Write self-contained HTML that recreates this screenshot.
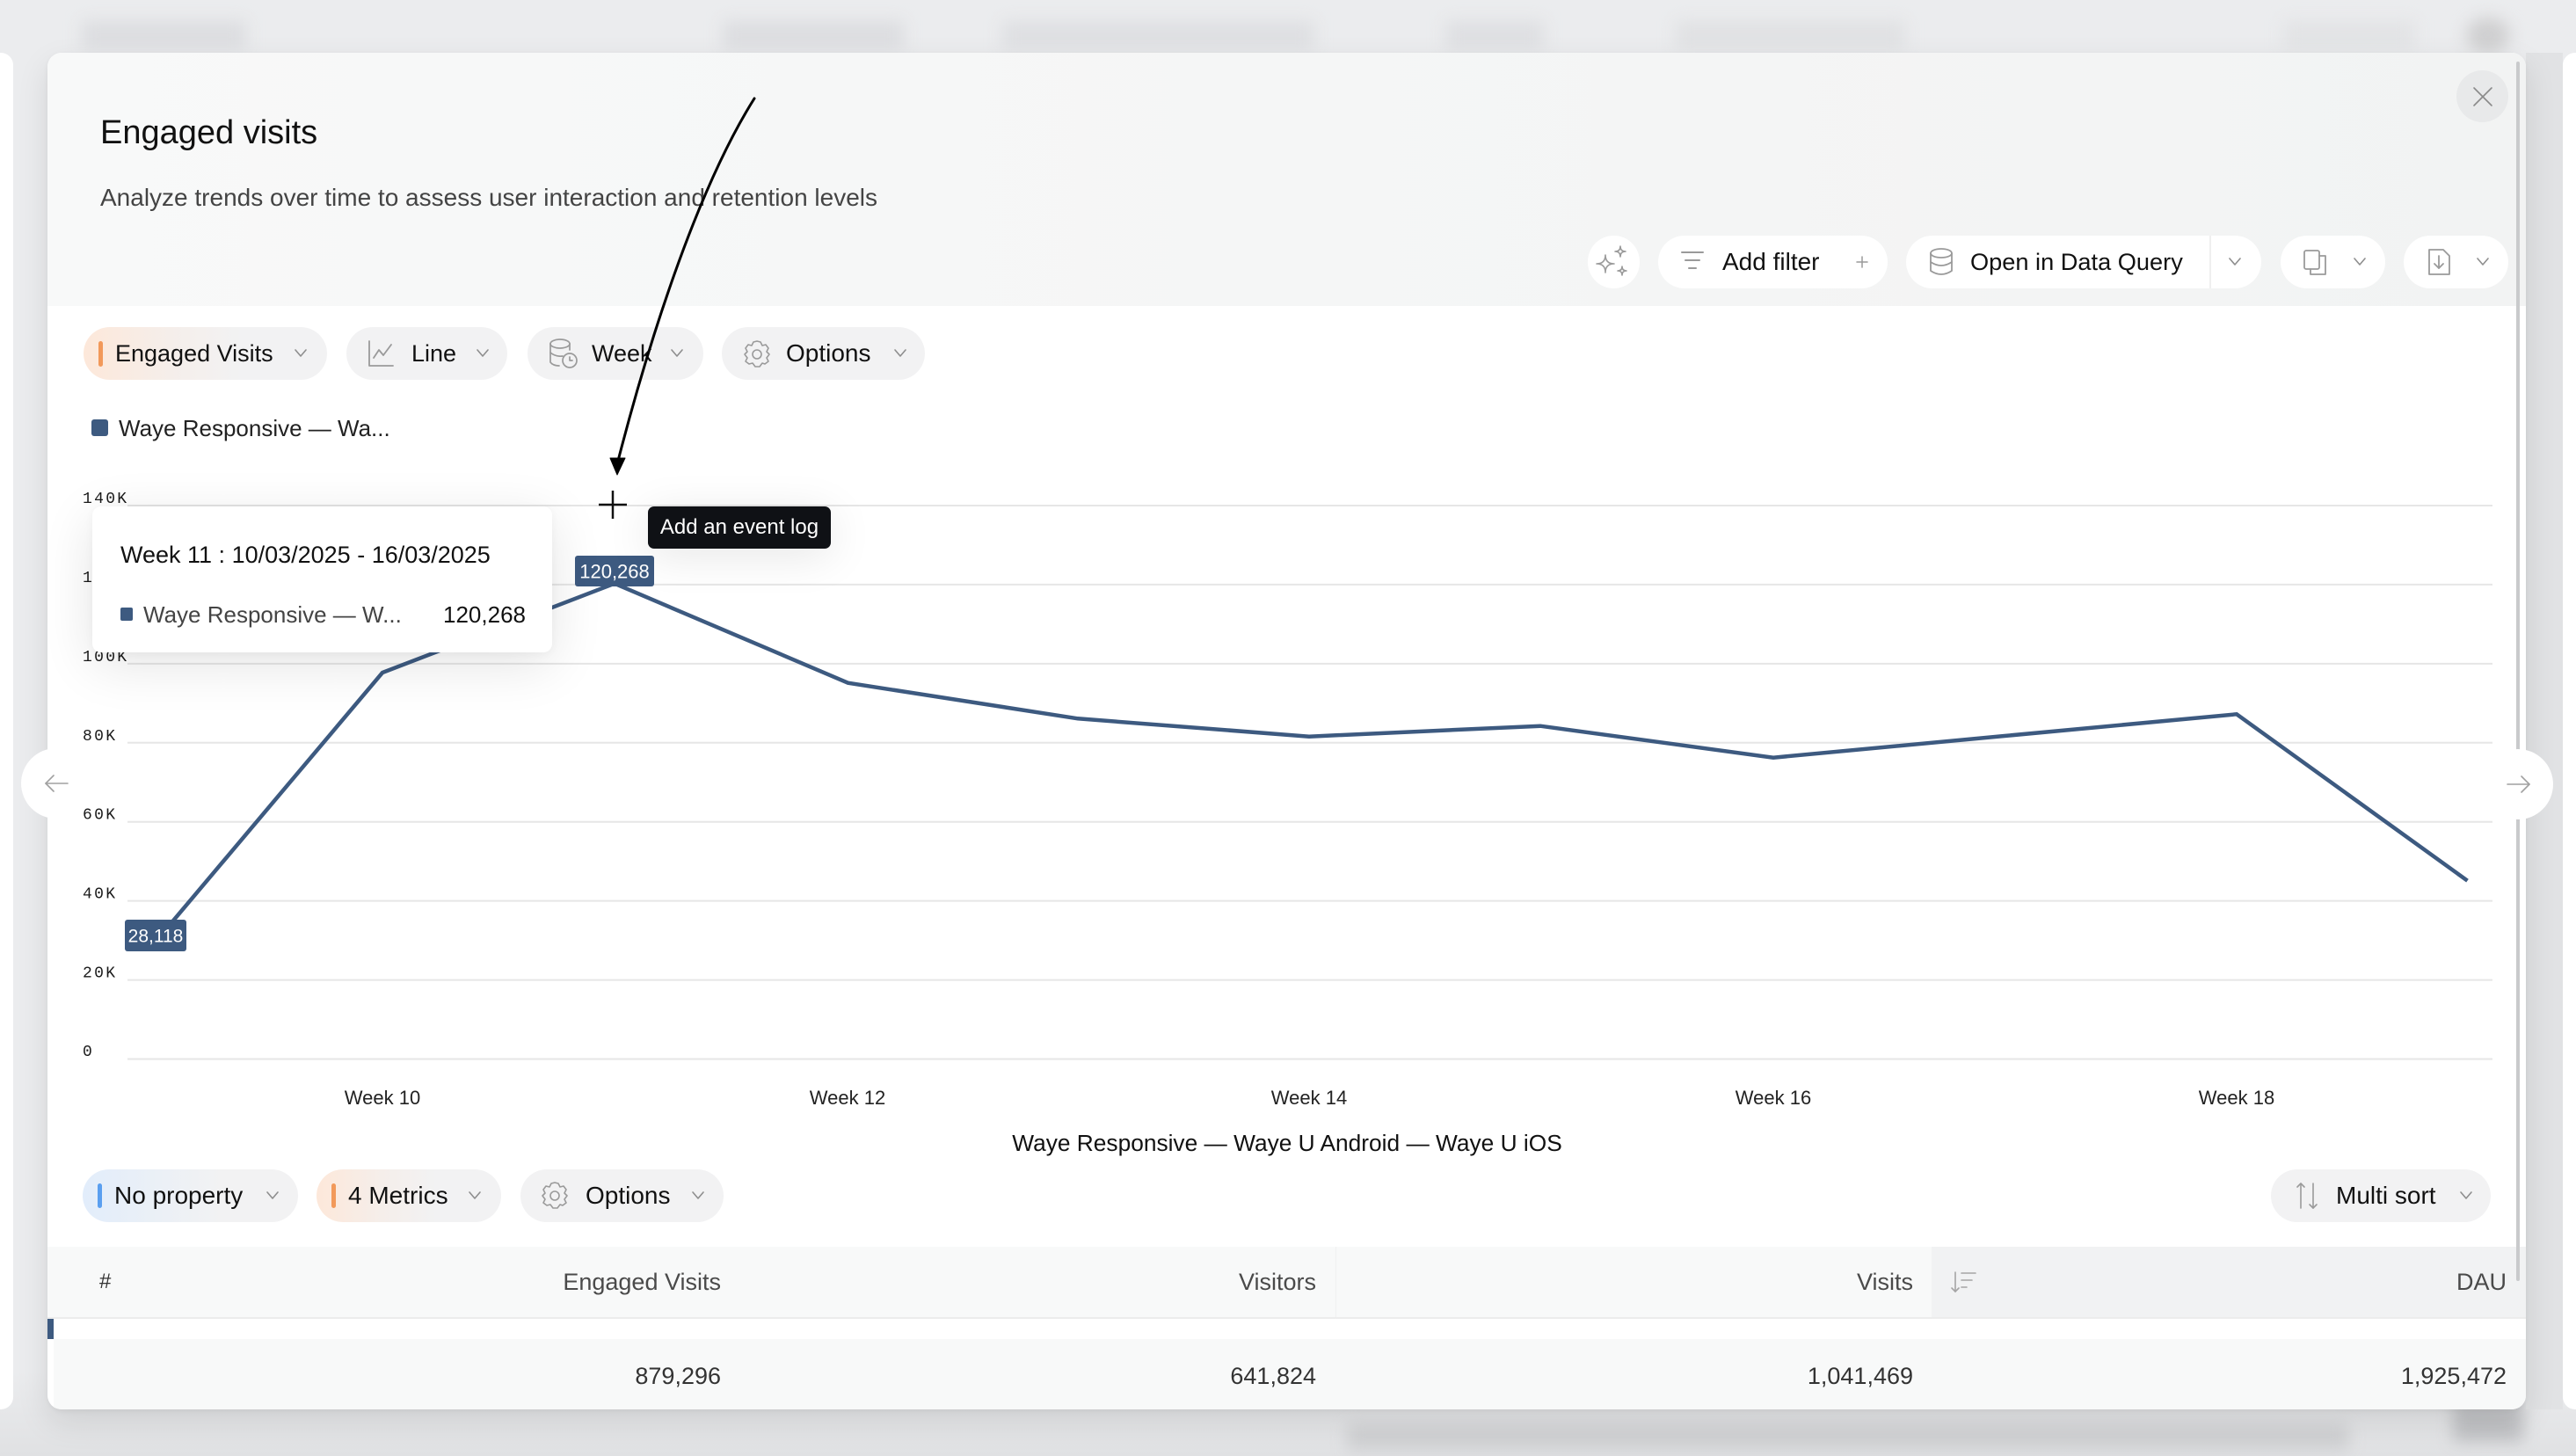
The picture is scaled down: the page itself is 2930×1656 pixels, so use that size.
<!DOCTYPE html>
<html><head><meta charset="utf-8">
<style>
*{margin:0;padding:0;box-sizing:border-box}
html,body{width:2930px;height:1656px;overflow:hidden}
body{position:relative;background:linear-gradient(180deg,#ebecee 0px,#ebecee 1560px,#e0e1e3 1656px);font-family:"Liberation Sans",Arial,sans-serif;color:#111}
.a{position:absolute}
.t{position:absolute;white-space:nowrap;height:40px;line-height:40px}
.pill{position:absolute;height:60px;border-radius:30px;background:#f2f2f3}
.btn{position:absolute;height:60px;border-radius:30px;background:#fff}
.bl{position:absolute;filter:blur(9px)}
svg{position:absolute;left:0;top:0;overflow:visible}
</style></head><body>

<!-- blurred background shapes -->
<div class="bl" style="left:93px;top:24px;width:187px;height:32px;background:#dcdde0"></div>
<div class="bl" style="left:822px;top:24px;width:206px;height:32px;background:#dcdde0"></div>
<div class="bl" style="left:1140px;top:24px;width:355px;height:32px;background:#dedfe2"></div>
<div class="bl" style="left:1644px;top:24px;width:112px;height:32px;background:#dedfe2"></div>
<div class="bl" style="left:1906px;top:24px;width:261px;height:32px;background:#e0e1e3"></div>
<div class="bl" style="left:2597px;top:24px;width:150px;height:32px;background:#e2e3e5"></div>
<div class="bl" style="left:2805px;top:20px;width:50px;height:40px;background:#cfcfd0;border-radius:50%"></div>
<div class="bl" style="left:1532px;top:1620px;width:1140px;height:30px;background:#cbccce;opacity:.8"></div>
<div class="bl" style="left:2790px;top:1595px;width:80px;height:45px;background:#b9babd;opacity:.8"></div>

<!-- side panels -->
<div class="a" style="left:0;top:60px;width:15px;height:1543px;background:#fff;border-radius:0 14px 14px 0"></div>
<div class="a" style="left:2873px;top:60px;width:42px;height:1543px;background:#e1e2e4"></div>
<div class="a" style="left:2915px;top:60px;width:15px;height:1543px;background:#fff;border-radius:14px 0 0 14px"></div>

<!-- modal -->
<div class="a" style="left:54px;top:60px;width:2819px;height:1543px;background:#fff;border-radius:16px;overflow:hidden;box-shadow:0 14px 36px rgba(0,0,0,0.10),0 2px 6px rgba(0,0,0,0.05)">
  <div class="a" style="left:0;top:0;width:2819px;height:288px;background:linear-gradient(90deg,#f8f9f9,#f2f3f3)"></div>
  <div class="a" style="left:0;top:1358px;width:2819px;height:80px;background:#f8f9f9"></div>
  <div class="a" style="left:2143px;top:1358px;width:676px;height:80px;background:#f1f2f3"></div>
  <div class="a" style="left:1465px;top:1358px;width:1px;height:80px;background:#f0f1f1"></div>
  <div class="a" style="left:0;top:1438px;width:2819px;height:2px;background:#ececec"></div>
  <div class="a" style="left:7px;top:1463px;width:2812px;height:80px;background:#f8f9f9"></div>
  <div class="a" style="left:0;top:1440px;width:7px;height:23px;background:#3d5a80"></div>
</div>

<!-- scrollbar -->
<div class="a" style="left:2862px;top:70px;width:4px;height:1387px;background:#c9cacc;border-radius:2px"></div>

<!-- header texts -->
<div class="t" style="left:114px;top:126px;height:50px;line-height:50px;font-size:38px;color:#111">Engaged visits</div>
<div class="t" style="left:114px;top:205px;font-size:28px;color:#444">Analyze trends over time to assess user interaction and retention levels</div>

<!-- close -->
<div class="a" style="left:2794px;top:80px;width:59px;height:59px;border-radius:50%;background:#e8e9ea"></div>

<!-- toolbar buttons -->
<div class="btn" style="left:1806px;top:268px;width:59px"></div>
<div class="btn" style="left:1886px;top:268px;width:261px"></div>
<div class="btn" style="left:2168px;top:268px;width:404px"></div>
<div class="a" style="left:2513px;top:268px;width:2px;height:60px;background:#efefef"></div>
<div class="btn" style="left:2594px;top:268px;width:119px"></div>
<div class="btn" style="left:2734px;top:268px;width:119px"></div>
<div class="t" style="left:1959px;top:278px;font-size:28px">Add filter</div>
<div class="t" style="left:2241px;top:278px;font-size:27.2px">Open in Data Query</div>

<!-- pills row 1 -->
<div class="pill" style="left:95px;top:372px;width:277px;background:linear-gradient(90deg,#fde8da 0%,#f5eeea 35%,#f2f2f3 65%)"></div>
<div class="a" style="left:112px;top:388px;width:5px;height:29px;border-radius:3px;background:#f2995a"></div>
<div class="t" style="left:131px;top:382px;font-size:27px">Engaged Visits</div>
<div class="pill" style="left:394px;top:372px;width:183px"></div>
<div class="t" style="left:468px;top:382px;font-size:27px">Line</div>
<div class="pill" style="left:600px;top:372px;width:200px"></div>
<div class="t" style="left:673px;top:382px;font-size:27px">Week</div>
<div class="pill" style="left:821px;top:372px;width:231px"></div>
<div class="t" style="left:894px;top:382px;font-size:28px">Options</div>

<!-- legend -->
<div class="a" style="left:104px;top:477px;width:19px;height:19px;border-radius:3px;background:#3d5a80"></div>
<div class="t" style="left:135px;top:467px;font-size:26px;color:#222">Waye Responsive — Wa...</div>

<!-- chart -->
<svg width="2930" height="1656" viewBox="0 0 2930 1656">
  <g stroke="#e6e6e6" stroke-width="2">
    <line x1="145" y1="1204.5" x2="2835" y2="1204.5"/>
    <line x1="145" y1="1114.6" x2="2835" y2="1114.6"/>
    <line x1="145" y1="1024.6" x2="2835" y2="1024.6"/>
    <line x1="145" y1="934.7" x2="2835" y2="934.7"/>
    <line x1="145" y1="844.8" x2="2835" y2="844.8"/>
    <line x1="145" y1="754.9" x2="2835" y2="754.9"/>
    <line x1="145" y1="664.9" x2="2835" y2="664.9"/>
    <line x1="145" y1="575" x2="2835" y2="575"/>
  </g>
  <g font-family="Liberation Mono, DejaVu Sans Mono, monospace" font-size="18" letter-spacing="2.3" fill="#1a1a1a">
    <text x="94" y="1201">0</text>
    <text x="94" y="1111.6">20K</text>
    <text x="94" y="1021.6">40K</text>
    <text x="94" y="931.7">60K</text>
    <text x="94" y="841.8">80K</text>
    <text x="94" y="751.9">100K</text>
    <text x="94" y="661.9">120K</text>
    <text x="94" y="572">140K</text>
  </g>
  <polyline fill="none" stroke="#3d5a80" stroke-width="4.5" stroke-linejoin="miter"
    points="171,1078 435,765 699,663.7 964.5,776.7 1226,817.3 1489,837.7 1752,825.7 2017,861.7 2280,837 2544,812.3 2806.5,1001.7"/>
  <g font-family="Liberation Sans, Arial, sans-serif" font-size="22" fill="#222" text-anchor="middle">
    <text x="435" y="1256">Week 10</text>
    <text x="964" y="1256">Week 12</text>
    <text x="1489" y="1256">Week 14</text>
    <text x="2017" y="1256">Week 16</text>
    <text x="2544" y="1256">Week 18</text>
  </g>
  <text x="1464" y="1309" font-family="Liberation Sans, Arial, sans-serif" font-size="26.3" fill="#111" text-anchor="middle">Waye Responsive — Waye U Android — Waye U iOS</text>
  <rect x="142" y="1046" width="70" height="36" rx="3" fill="#3d5a80"/>
  <text x="177" y="1071.5" font-family="Liberation Sans, Arial, sans-serif" font-size="21" fill="#fff" text-anchor="middle">28,118</text>
  <rect x="654" y="632" width="90" height="35" rx="3" fill="#3d5a80"/>
  <text x="699" y="657.5" font-family="Liberation Sans, Arial, sans-serif" font-size="22" fill="#fff" text-anchor="middle">120,268</text>
  <g stroke="#111" stroke-width="2.5">
    <line x1="681" y1="574" x2="713" y2="574"/>
    <line x1="697" y1="558" x2="697" y2="590"/>
  </g>
</svg>

<!-- tooltip -->
<div class="a" style="left:105px;top:576px;width:523px;height:166px;border-radius:10px;background:#fff;box-shadow:0 14px 60px rgba(0,0,0,0.11),0 2px 10px rgba(0,0,0,0.04)"></div>
<div class="t" style="left:137px;top:611px;font-size:27px;color:#111">Week 11 : 10/03/2025 - 16/03/2025</div>
<div class="a" style="left:137px;top:691px;width:14px;height:15px;border-radius:2px;background:#3d5a80"></div>
<div class="t" style="left:163px;top:679px;font-size:26px;color:#444">Waye Responsive — W...</div>
<div class="t" style="right:2332px;top:679px;font-size:26px;color:#111">120,268</div>

<div class="a" style="left:737px;top:576px;width:208px;height:48px;border-radius:7px;background:#0f1115;box-shadow:0 8px 50px rgba(0,0,0,0.10)"></div>
<div class="t" style="left:737px;top:580px;width:208px;text-align:center;font-size:24px;color:#fff">Add an event log</div>

<!-- nav circles -->
<div class="a" style="left:24px;top:851px;width:80px;height:80px;border-radius:50%;background:#fff"></div>
<div class="a" style="left:2824px;top:852px;width:80px;height:80px;border-radius:50%;background:#fff"></div>

<!-- bottom pills -->
<div class="pill" style="left:94px;top:1330px;width:245px;background:linear-gradient(90deg,#e2edfb 0%,#ebf0f6 35%,#f2f2f3 65%)"></div>
<div class="a" style="left:111px;top:1346px;width:5px;height:28px;border-radius:3px;background:#5a9ff0"></div>
<div class="t" style="left:130px;top:1340px;font-size:28px">No property</div>
<div class="pill" style="left:360px;top:1330px;width:210px;background:linear-gradient(90deg,#fde8da 0%,#f5eeea 35%,#f2f2f3 65%)"></div>
<div class="a" style="left:377px;top:1346px;width:5px;height:28px;border-radius:3px;background:#f2995a"></div>
<div class="t" style="left:396px;top:1340px;font-size:28px">4 Metrics</div>
<div class="pill" style="left:592px;top:1330px;width:231px"></div>
<div class="t" style="left:666px;top:1340px;font-size:28px">Options</div>
<div class="pill" style="left:2583px;top:1330px;width:250px"></div>
<div class="t" style="left:2657px;top:1340px;font-size:28px">Multi sort</div>

<!-- table -->
<div class="t" style="left:113px;top:1438px;font-size:24px;color:#333">#</div>
<div class="t" style="right:2110px;top:1438px;font-size:27px;color:#4a4a4a">Engaged Visits</div>
<div class="t" style="right:1433px;top:1438px;font-size:27px;color:#4a4a4a">Visitors</div>
<div class="t" style="right:754px;top:1438px;font-size:27px;color:#4a4a4a">Visits</div>
<div class="t" style="right:79px;top:1438px;font-size:27px;color:#4a4a4a">DAU</div>
<div class="t" style="right:2110px;top:1545px;font-size:27px;color:#333">879,296</div>
<div class="t" style="right:1433px;top:1545px;font-size:27px;color:#333">641,824</div>
<div class="t" style="right:754px;top:1545px;font-size:27px;color:#333">1,041,469</div>
<div class="t" style="right:79px;top:1545px;font-size:27px;color:#333">1,925,472</div>

<!-- icons overlay -->
<svg width="2930" height="1656" viewBox="0 0 2930 1656" fill="none" stroke-linecap="round" stroke-linejoin="round">
  <g stroke="#8a8a8a" stroke-width="1.6">
    <line x1="2814" y1="100" x2="2834" y2="120"/><line x1="2834" y1="100" x2="2814" y2="120"/>
  </g>
  <g stroke="#9a9a9a" stroke-width="1.6">
    <path d="M1826,290 Q1826,300 1836,300 Q1826,300 1826,310 Q1826,300 1816,300 Q1826,300 1826,290 Z"/>
    <path d="M1843,280 Q1843,286 1849,286 Q1843,286 1843,292 Q1843,286 1837,286 Q1843,286 1843,280 Z"/>
    <path d="M1845,303 Q1845,308 1850,308 Q1845,308 1845,313 Q1845,308 1840,308 Q1845,308 1845,303 Z"/>
  </g>
  <g stroke="#9a9a9a" stroke-width="2">
    <line x1="1913" y1="287" x2="1937" y2="287"/><line x1="1917" y1="296" x2="1933" y2="296"/><line x1="1921" y1="305" x2="1929" y2="305"/>
    <line x1="2112" y1="298" x2="2124" y2="298" stroke-width="1.5"/><line x1="2118" y1="292" x2="2118" y2="304" stroke-width="1.5"/>
  </g>
  <g stroke="#9a9a9a" stroke-width="1.8">
    <ellipse cx="2208" cy="288" rx="12" ry="5"/>
    <path d="M2196,288 V308 Q2208,316 2220,308 V288"/>
    <path d="M2196,298 Q2208,306 2220,298"/>
  </g>
  <g stroke="#9a9a9a" stroke-width="1.8">
    <rect x="2621" y="285" width="17" height="21" rx="2"/>
    <path d="M2638,291 H2645 V312 H2628 V306"/>
  </g>
  <g stroke="#9a9a9a" stroke-width="1.8">
    <path d="M2763,284 H2779 L2786,291 V312 H2763 Z"/>
    <line x1="2774" y1="291" x2="2774" y2="305"/><path d="M2769,300 L2774,305 L2779,300"/>
  </g>
  <g stroke="#8e8e8e" stroke-width="1.6">
    <path d="M2536,294 L2542,301 L2548,294"/>
    <path d="M2678,294 L2684,301 L2690,294"/>
    <path d="M2818,294 L2824,301 L2830,294"/>
    <path d="M336,398 L342,405 L348,398"/>
    <path d="M543,398 L549,405 L555,398"/>
    <path d="M764,398 L770,405 L776,398"/>
    <path d="M1018,398 L1024,405 L1030,398"/>
    <path d="M304,1356 L310,1363 L316,1356"/>
    <path d="M534,1356 L540,1363 L546,1356"/>
    <path d="M788,1356 L794,1363 L800,1356"/>
    <path d="M2799,1356 L2805,1363 L2811,1356"/>
  </g>
  <g stroke="#9a9a9a" stroke-width="1.8">
    <path d="M420,388 V416 H447"/>
    <path d="M425,407 L431,398 L436,404 L445,392"/>
  </g>
  <g stroke="#9a9a9a" stroke-width="1.7">
    <ellipse cx="637" cy="391" rx="11" ry="5"/>
    <path d="M626,391 V412 Q629,416 636,416"/>
    <path d="M626,401 Q632,406 640,405"/>
    <path d="M648,391 V398"/>
    <circle cx="648" cy="410" r="8"/>
    <path d="M648,406 V410 H651"/>
  </g>
  <g stroke="#9a9a9a" stroke-width="1.6">
    <path d="M861,388 L865,389 L867,393 L871,392 L874,396 L872,400 L875,403 L872,407 L874,411 L870,414 L867,413 L864,417 L859,417 L856,413 L852,414 L848,411 L850,407 L847,403 L850,400 L848,396 L851,392 L855,393 L857,389 Z"/>
    <circle cx="861" cy="403" r="5"/>
    <path d="M631,1345 L635,1346 L637,1350 L641,1349 L644,1353 L642,1357 L645,1360 L642,1364 L644,1368 L640,1371 L637,1370 L634,1374 L629,1374 L626,1370 L622,1371 L618,1368 L620,1364 L617,1360 L620,1357 L618,1353 L621,1349 L625,1350 L627,1346 Z"/>
    <circle cx="631" cy="1360" r="5"/>
  </g>
  <g stroke="#9a9a9a" stroke-width="1.6">
    <line x1="2617" y1="1374" x2="2617" y2="1346"/><path d="M2613,1350 L2617,1346 L2621,1350"/>
    <line x1="2631" y1="1346" x2="2631" y2="1374"/><path d="M2627,1370 L2631,1374 L2635,1370"/>
  </g>
  <g stroke="#a5a5a5" stroke-width="1.6">
    <line x1="2224" y1="1447" x2="2224" y2="1469"/><path d="M2220,1465 L2224,1469 L2228,1465"/>
    <line x1="2231" y1="1448" x2="2247" y2="1448"/><line x1="2231" y1="1456" x2="2243" y2="1456"/><line x1="2231" y1="1464" x2="2237" y2="1464"/>
  </g>
  <g stroke="#a0a0a0" stroke-width="1.6">
    <line x1="52" y1="891" x2="77" y2="891"/><path d="M61,882 L52,891 L61,900"/>
    <line x1="2852" y1="892" x2="2877" y2="892"/><path d="M2868,883 L2877,892 L2868,901"/>
  </g>
  <path d="M858,112 C790,220 735,400 703,524" stroke="#000" stroke-width="3"/>
  <polygon points="694,521 711,521 702,540" fill="#000" stroke="#000" stroke-width="1"/>
</svg>

</body></html>
